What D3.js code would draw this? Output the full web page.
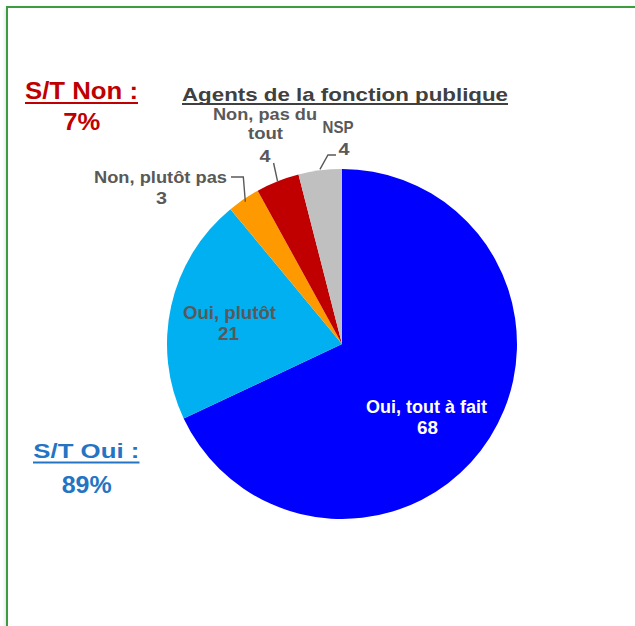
<!DOCTYPE html>
<html><head><meta charset="utf-8">
<script src="https://cdn.jsdelivr.net/npm/d3@7"></script>
<style>
html,body{margin:0;padding:0;background:#fff;}
svg{display:block;font-family:"Liberation Sans",Arial,sans-serif;}
</style></head>
<body>
<svg id="c" width="635" height="626"></svg>
<script>
const categories = ["Oui, tout à fait", "Oui, plutôt", "Non, plutôt pas", "Non, pas du tout", "NSP"];
const values = [68, 21, 3, 4, 4];
const colors = ["#0000FF", "#00B0F0", "#FF9900", "#C00000", "#C0C0C0"];
const title = "Agents de la fonction publique";
const summaryNon = ["S/T Non :", "7%"];
const summaryOui = ["S/T Oui :", "89%"];

const svg = d3.select("#c");
const defs = svg.append("defs");
const f = defs.append("filter").attr("id","sh").attr("x","-10%").attr("y","-10%").attr("width","120%").attr("height","140%");
f.append("feGaussianBlur").attr("in","SourceAlpha").attr("stdDeviation",2);
f.append("feOffset").attr("dy",2).attr("result","b");
f.append("feFlood").attr("flood-color","#000").attr("flood-opacity",0.18);
f.append("feComposite").attr("in2","b").attr("operator","in");
const m = f.append("feMerge"); m.append("feMergeNode"); m.append("feMergeNode").attr("in","SourceGraphic");

// frame
svg.append("rect").attr("x",7).attr("y",7).attr("width",640).attr("height",640)
  .attr("fill","#fff").attr("stroke","#3C9C3C").attr("stroke-width",2).attr("filter","url(#sh)");

const cx = 342, cy = 344, R = 175;
const g = svg.append("g").attr("transform",`translate(${cx},${cy})`);
const data = categories.map((c,i)=>({cat:c, v:values[i], col:colors[i]}));
const pie = d3.pie().sort(null).value(d=>d.v);
const arcs = pie(data);
const arc = d3.arc().innerRadius(0).outerRadius(R);
g.selectAll("path.s").data(arcs).join("path").attr("class","s")
  .attr("d",arc).attr("fill",d=>d.data.col);

const gray = "#595959";
function T(x, y, txt, size, fill, len, anchor){
  const t = svg.append("text").attr("x",x).attr("y",y).attr("text-anchor",anchor||"middle")
    .attr("font-size",size).attr("font-weight","bold").attr("fill",fill).text(txt);
  if (len) t.attr("textLength",len).attr("lengthAdjust","spacingAndGlyphs");
  return t;
}

// inside labels
T(426.5, 413, categories[0], 17.5, "#fff", 121);
T(427.5, 434, String(values[0]), 17.5, "#fff", 21);
T(229.5, 319, categories[1], 17.5, gray, 93);
T(228.5, 340, String(values[1]), 17.5, gray, 21);

// leader lines
function pt(a, r){ const ang = (a.startAngle+a.endAngle)/2; return [cx + r*Math.sin(ang), cy - r*Math.cos(ang)]; }
const lead = d3.line();
function L(pts){ svg.append("path").attr("d",lead(pts)).attr("fill","none").attr("stroke",gray).attr("stroke-width",1.4); }
const p2 = pt(arcs[2], R-3), p3 = pt(arcs[3], R), p4 = pt(arcs[4], R+1);
L([p2, [p2[0]-2, 177], [231, 177]]);
L([p3, [p3[0]-4, 163]]);
L([p4, [p4[0]+8, 155], [336, 155]]);

// outside labels
T(227, 182.7, categories[2], 16.5, gray, 133, "end");
T(161.5, 204.3, String(values[2]), 17, gray, 11);
T(265, 119.5, "Non, pas du", 16, gray, 104);
T(265.5, 138.5, "tout", 16, gray, 35);
T(265, 161.7, String(values[3]), 17, gray, 11);
T(338, 132.7, categories[4], 17, gray, 31);
T(344, 155, String(values[4]), 17, gray, 11);

// title
T(345, 100.7, title, 18.6, "#404040", 326);
svg.append("line").attr("x1",182).attr("x2",508).attr("y1",104).attr("y2",104)
  .attr("stroke","#404040").attr("stroke-width",1.8);

// summaries
T(81.5, 99.3, summaryNon[0], 23, "#C00000", 113);
svg.append("line").attr("x1",25).attr("x2",138).attr("y1",103).attr("y2",103)
  .attr("stroke","#C00000").attr("stroke-width",2.2);
T(81.7, 130, summaryNon[1], 23, "#C00000", 37);

T(86.3, 458.3, summaryOui[0], 21, "#2474C4", 106);
svg.append("line").attr("x1",33).attr("x2",139.5).attr("y1",462.5).attr("y2",462.5)
  .attr("stroke","#2474C4").attr("stroke-width",2);
T(86.7, 492.5, summaryOui[1], 23, "#2474C4", 50);
</script>
</body></html>
